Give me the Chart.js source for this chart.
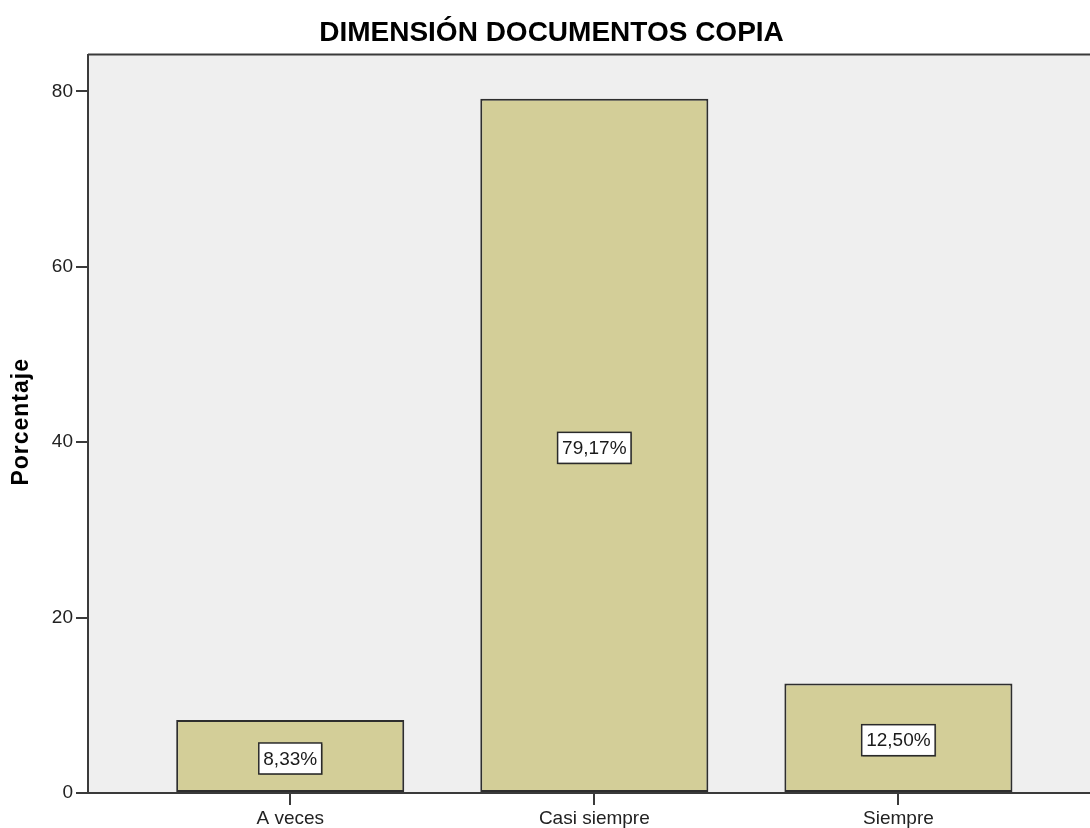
<!DOCTYPE html>
<html>
<head>
<meta charset="utf-8">
<script src="https://cdn.jsdelivr.net/npm/chart.js@4.4.1/dist/chart.umd.min.js"></script>
<style>
  html, body { margin: 0; padding: 0; background: #fff; overflow: hidden; }
  #wrap { width: 1090px; height: 828px; position: relative; }
</style>
</head>
<body>
<div id="wrap"><canvas id="chart"></canvas></div>
<script>
// --- Data ---
const categories = ['A veces', 'Casi siempre', 'Siempre'];
const percentages = [8.33, 79.17, 12.50];
const yTicks = [0, 20, 40, 60, 80];
const yTitle = 'Porcentaje';

const FONT = '"Liberation Sans", Arial, sans-serif';
const AXIS_COLOR = '#3a3a3a';

// plot background + top frame line
const plotFrame = {
    id: 'plotFrame',
    beforeDraw(chart) {
        const { ctx, chartArea: a } = chart;
        ctx.save();
        ctx.fillStyle = '#efefef';
        ctx.fillRect(a.left, a.top, a.right - a.left, a.bottom - a.top);
        ctx.strokeStyle = AXIS_COLOR;
        ctx.lineWidth = 2;
        ctx.beginPath();
        ctx.moveTo(a.left, a.top);
        ctx.lineTo(a.right, a.top);
        ctx.stroke();
        ctx.restore();
    },
    // rotated y title
    afterDraw(chart) {
        const { ctx, chartArea: a } = chart;
        ctx.save();
        ctx.font = 'bold 23px ' + FONT;
        ctx.letterSpacing = '1px';
        ctx.fillStyle = '#000';
        ctx.textAlign = 'center';
        ctx.textBaseline = 'alphabetic';
        ctx.translate(28, (a.top + a.bottom) / 2 - 2);
        ctx.rotate(-Math.PI / 2);
        ctx.fillText(yTitle, 0, 0);
        ctx.restore();
    }
};

// percentage boxes in the middle of each bar
const barLabels = {
    id: 'barLabels',
    afterDatasetsDraw(chart) {
        const { ctx } = chart;
        const meta = chart.getDatasetMeta(0);
        ctx.save();
        ctx.font = '19px ' + FONT;
        ctx.textAlign = 'center';
        ctx.textBaseline = 'middle';
        meta.data.forEach((bar, i) => {
            const txt = percentages[i].toFixed(2).replace('.', ',') + '%';
            const w = ctx.measureText(txt).width + 9;
            const h = 31;
            const cx = bar.x;
            const cy = (bar.y + bar.base) / 2 + 2.5;
            ctx.fillStyle = 'rgba(0,0,0,0.3)';
            ctx.fillRect(cx - w / 2 + 1, cy - h / 2 + 1, w, h);
            ctx.fillStyle = '#ffffff';
            ctx.fillRect(cx - w / 2, cy - h / 2, w, h);
            ctx.strokeStyle = '#2a2a2a';
            ctx.lineWidth = 1.5;
            ctx.strokeRect(cx - w / 2, cy - h / 2, w, h);
            ctx.fillStyle = '#1a1a1a';
            ctx.fillText(txt, cx, cy + 1);
        });
        ctx.restore();
    }
};

new Chart(document.getElementById('chart'), {
    type: 'bar',
    data: {
        datasets: [{
            data: categories.map((c, i) => ({ x: i + 1, y: percentages[i] })),
            backgroundColor: '#d3ce98',
            borderColor: '#2e2e2e',
            borderWidth: 2,
            borderSkipped: false,
            categoryPercentage: 1,
            barPercentage: 0.75
        }]
    },
    options: {
        responsive: true,
        maintainAspectRatio: false,
        animation: false,
        layout: { padding: { left: 13, right: 0, top: 0, bottom: 0 } },
        plugins: {
            legend: { display: false },
            tooltip: { enabled: false },
            title: {
                display: true,
                text: 'DIMENSIÓN DOCUMENTOS COPIA',
                color: '#000',
                font: { family: FONT, size: 28, weight: 'bold' },
                padding: { top: 16, bottom: 5 }
            }
        },
        scales: {
            x: {
                type: 'linear',
                offset: false,
                min: 0.335,
                max: 3.63,
                afterBuildTicks: (scale) => {
                    scale.ticks = categories.map((c, i) => ({ value: i + 1 }));
                },
                afterFit: (scale) => { scale.height = 35; },
                grid: {
                    offset: false,
                    drawOnChartArea: false,
                    drawTicks: true,
                    tickLength: 12,
                    color: AXIS_COLOR,
                    lineWidth: 2
                },
                border: { display: true, color: AXIS_COLOR, width: 2 },
                ticks: {
                    autoSkip: false,
                    maxRotation: 0,
                    padding: 2,
                    color: '#222',
                    font: { family: FONT, size: 19 },
                    callback: (v) => categories[v - 1] || ''
                }
            },
            y: {
                min: 0,
                max: 84.2,
                afterBuildTicks: (scale) => {
                    scale.ticks = yTicks.map(v => ({ value: v }));
                },
                afterFit: (scale) => { scale.width = 75; },
                grid: {
                    drawOnChartArea: false,
                    drawTicks: true,
                    tickLength: 12,
                    color: AXIS_COLOR,
                    lineWidth: 2
                },
                border: { display: true, color: AXIS_COLOR, width: 2 },
                ticks: {
                    padding: 3,
                    color: '#222',
                    font: { family: FONT, size: 19 }
                }
            }
        }
    },
    plugins: [plotFrame, barLabels]
});
</script>
</body>
</html>
